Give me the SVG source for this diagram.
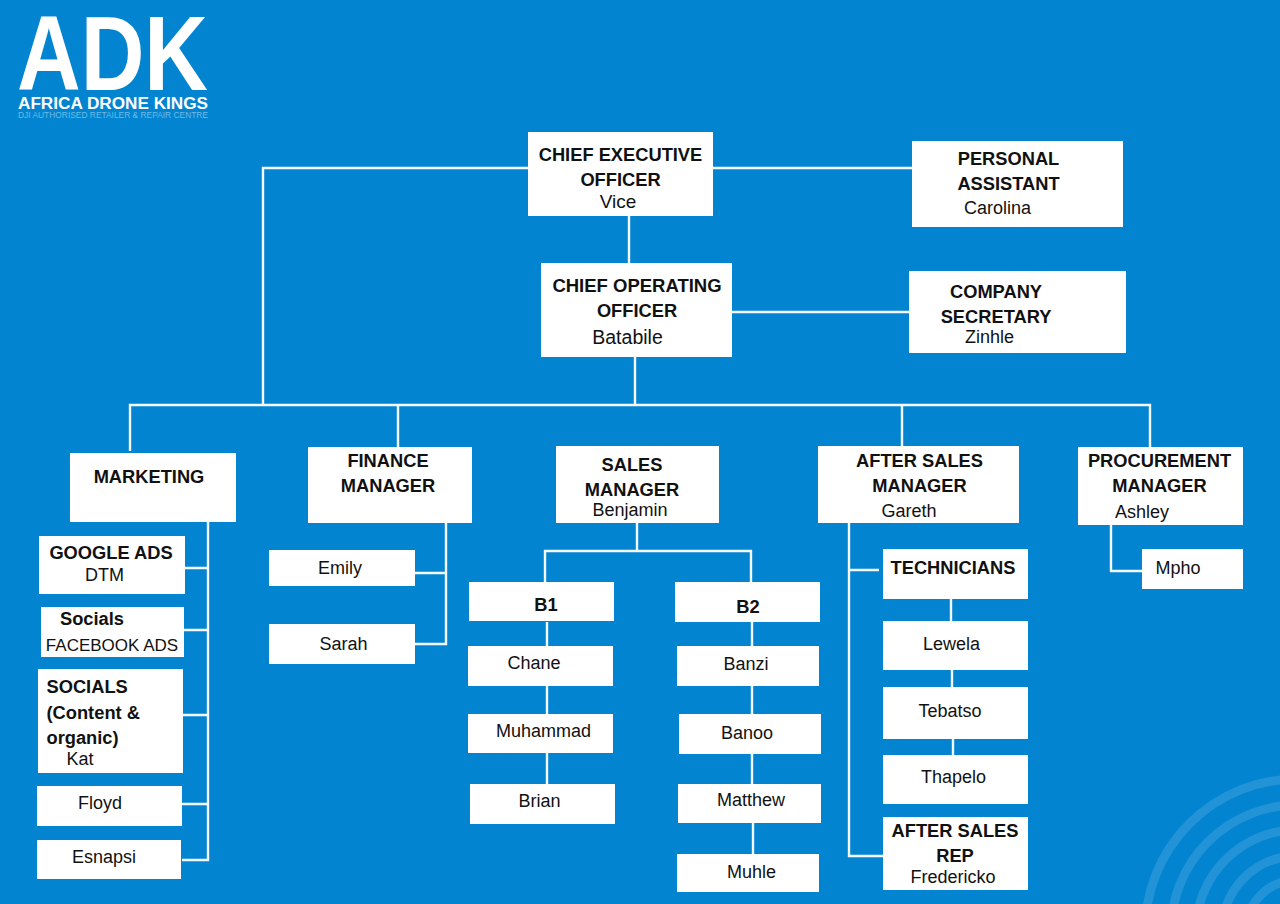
<svg xmlns="http://www.w3.org/2000/svg" width="1280" height="904" viewBox="0 0 1280 904">
<style>
text{font-family:"Liberation Sans",Arial,sans-serif;fill:#111;font-size:18px}
.b{font-weight:700;font-size:18.3px}
.box{fill:#fff}
.c{fill:none;stroke:#f4f9fd;stroke-width:2.4}
.arc{fill:none;stroke:#fff;stroke-opacity:.13;stroke-width:9}
</style>
<rect width="1280" height="904" fill="#0284d0"/>
<g id="decor"><circle class="arc" cx="1297" cy="931" r="152"/><circle class="arc" cx="1297" cy="931" r="126"/><circle class="arc" cx="1297" cy="931" r="101"/><circle class="arc" cx="1297" cy="931" r="75"/><circle class="arc" cx="1297" cy="931" r="51"/></g>
<g id="logo">
<text x="17" y="90" textLength="191" lengthAdjust="spacingAndGlyphs" style="font-size:106px;fill:#fff;font-weight:700">ADK</text>
<text x="18" y="109" textLength="190" lengthAdjust="spacingAndGlyphs" style="font-size:16px;fill:#fff;font-weight:700">AFRICA DRONE KINGS</text>
<text x="18" y="118" textLength="190" lengthAdjust="spacingAndGlyphs" style="font-size:9px;fill:#6dbbe8">DJI AUTHORISED RETAILER &amp; REPAIR CENTRE</text>
</g>
<g id="connectors">
<path class="c" d="M528 168H263V405M713 168H912M629 216V263M732 312H909M635 357V405M130 451V405H1150V447M398 405V447M902 405V446"/>
<path class="c" d="M208 522V860H182M185 568H208M184 630H208M183 715H208M182 804H208"/>
<path class="c" d="M446 523V644H415M415 573H446"/>
<path class="c" d="M637 523V551M545 582V551H751V582M547 622V646M547 686V714M547 753V784M752 622V646M752 686V714M752 754V784M753 823V854"/>
<path class="c" d="M849 523V856H883M849 570H879M951 599V621M952 670V687M953 739V755"/>
<path class="c" d="M1111 525V571H1142"/>
</g>
<g id="ceo"><rect class="box" x="528" y="132" width="185" height="84"/><text class="b" x="620.500" y="161" text-anchor="middle">CHIEF EXECUTIVE</text><text class="b" x="620.500" y="186" text-anchor="middle">OFFICER</text><text x="618" y="208" text-anchor="middle" style="font-size:19px">Vice</text></g>
<g id="pa"><rect class="box" x="912" y="141" width="211" height="86"/><text class="b" x="1008.500" y="165" text-anchor="middle">PERSONAL</text><text class="b" x="1008.500" y="190" text-anchor="middle">ASSISTANT</text><text x="997.500" y="214" text-anchor="middle">Carolina</text></g>
<g id="coo"><rect class="box" x="541" y="263" width="191" height="94"/><text class="b" x="637" y="292" text-anchor="middle" style="font-size:18.500px">CHIEF OPERATING</text><text class="b" x="637" y="317" text-anchor="middle">OFFICER</text><text x="627.500" y="344" text-anchor="middle" style="font-size:19.500px">Batabile</text></g>
<g id="secretary"><rect class="box" x="909" y="271" width="217" height="82"/><text class="b" x="996" y="298" text-anchor="middle">COMPANY</text><text class="b" x="996" y="323" text-anchor="middle">SECRETARY</text><text x="989.500" y="343" text-anchor="middle">Zinhle</text></g>
<g id="marketing"><rect class="box" x="70" y="453" width="166" height="69"/><text class="b" x="149" y="483" text-anchor="middle">MARKETING</text></g>
<g id="finance"><rect class="box" x="308" y="447" width="164" height="76"/><text class="b" x="388" y="467" text-anchor="middle">FINANCE</text><text class="b" x="388" y="492" text-anchor="middle">MANAGER</text></g>
<g id="sales"><rect class="box" x="556" y="446" width="163" height="77"/><text class="b" x="632" y="471" text-anchor="middle">SALES</text><text class="b" x="632" y="496" text-anchor="middle">MANAGER</text><text x="630" y="516" text-anchor="middle">Benjamin</text></g>
<g id="aftersales"><rect class="box" x="818" y="446" width="201" height="77"/><text class="b" x="919.500" y="467" text-anchor="middle">AFTER SALES</text><text class="b" x="919.500" y="492" text-anchor="middle">MANAGER</text><text x="909" y="517" text-anchor="middle">Gareth</text></g>
<g id="procurement"><rect class="box" x="1078" y="447" width="165" height="78"/><text class="b" x="1159.500" y="467" text-anchor="middle">PROCUREMENT</text><text class="b" x="1159.500" y="492" text-anchor="middle">MANAGER</text><text x="1142" y="518" text-anchor="middle">Ashley</text></g>
<g id="google-ads"><rect class="box" x="39" y="536" width="146" height="58"/><text class="b" x="111" y="559" text-anchor="middle">GOOGLE ADS</text><text x="104.500" y="581" text-anchor="middle">DTM</text></g>
<g id="socials-fb"><rect class="box" x="41" y="607" width="143" height="50"/><text class="b" x="92" y="625" text-anchor="middle">Socials</text><text x="112" y="651" text-anchor="middle" style="font-size:17px">FACEBOOK ADS</text></g>
<g id="socials-content"><rect class="box" x="38" y="669" width="145" height="104"/><text class="b" x="46.500" y="693">SOCIALS</text><text class="b" x="46.500" y="719">(Content &amp;</text><text class="b" x="46.500" y="744">organic)</text><text x="80" y="765" text-anchor="middle">Kat</text></g>
<g id="floyd"><rect class="box" x="37" y="786" width="145" height="40"/><text x="100" y="809" text-anchor="middle">Floyd</text></g>
<g id="esnapsi"><rect class="box" x="37" y="840" width="144" height="39"/><text x="104" y="863" text-anchor="middle">Esnapsi</text></g>
<g id="emily"><rect class="box" x="269" y="550" width="146" height="36"/><text x="340" y="574" text-anchor="middle">Emily</text></g>
<g id="sarah"><rect class="box" x="269" y="624" width="146" height="40"/><text x="343.500" y="650" text-anchor="middle">Sarah</text></g>
<g id="b1"><rect class="box" x="469" y="582" width="145" height="39"/><text class="b" x="546" y="611" text-anchor="middle">B1</text></g>
<g id="chane"><rect class="box" x="468" y="646" width="145" height="40"/><text x="534" y="669" text-anchor="middle">Chane</text></g>
<g id="muhammad"><rect class="box" x="468" y="714" width="145" height="39"/><text x="543.500" y="737" text-anchor="middle">Muhammad</text></g>
<g id="brian"><rect class="box" x="470" y="784" width="145" height="40"/><text x="539.500" y="807" text-anchor="middle">Brian</text></g>
<g id="b2"><rect class="box" x="675" y="582" width="145" height="40"/><text class="b" x="748" y="613" text-anchor="middle">B2</text></g>
<g id="banzi"><rect class="box" x="677" y="646" width="142" height="40"/><text x="746" y="670" text-anchor="middle">Banzi</text></g>
<g id="banoo"><rect class="box" x="679" y="714" width="142" height="40"/><text x="747" y="739" text-anchor="middle">Banoo</text></g>
<g id="matthew"><rect class="box" x="678" y="784" width="143" height="39"/><text x="751" y="806" text-anchor="middle">Matthew</text></g>
<g id="muhle"><rect class="box" x="677" y="854" width="142" height="38"/><text x="751.500" y="878" text-anchor="middle">Muhle</text></g>
<g id="technicians"><rect class="box" x="883" y="549" width="145" height="50"/><text class="b" x="953" y="574" text-anchor="middle">TECHNICIANS</text></g>
<g id="lewela"><rect class="box" x="883" y="621" width="145" height="49"/><text x="951.500" y="650" text-anchor="middle">Lewela</text></g>
<g id="tebatso"><rect class="box" x="883" y="687" width="145" height="52"/><text x="950" y="717" text-anchor="middle">Tebatso</text></g>
<g id="thapelo"><rect class="box" x="883" y="755" width="145" height="49"/><text x="953.500" y="783" text-anchor="middle">Thapelo</text></g>
<g id="rep"><rect class="box" x="883" y="817" width="145" height="73"/><text class="b" x="955" y="837" text-anchor="middle">AFTER SALES</text><text class="b" x="955" y="862" text-anchor="middle">REP</text><text x="953" y="883" text-anchor="middle">Fredericko</text></g>
<g id="mpho"><rect class="box" x="1142" y="549" width="101" height="40"/><text x="1178" y="574" text-anchor="middle">Mpho</text></g>
</svg>
